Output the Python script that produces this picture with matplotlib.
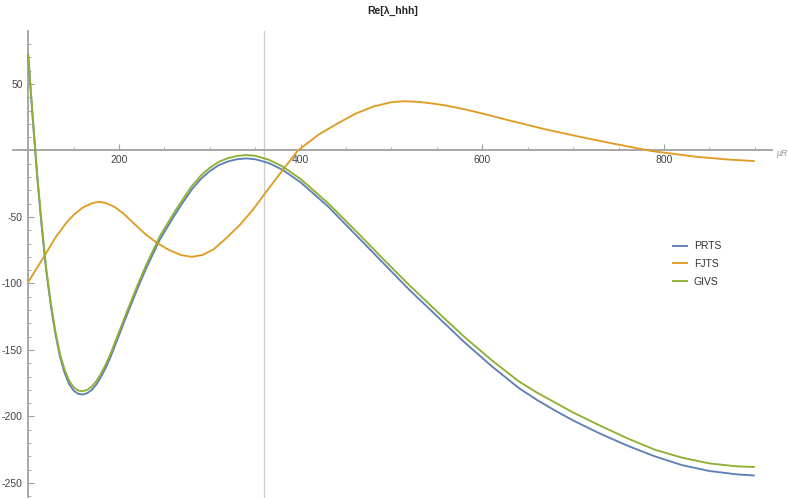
import matplotlib
matplotlib.use("Agg")
import matplotlib.pyplot as plt
from matplotlib.ticker import MultipleLocator, FixedLocator

plt.rcParams['font.family'] = ['Liberation Sans', 'DejaVu Sans']
plt.rcParams['axes.unicode_minus'] = False

# ---- data ----
x_bg = [100, 103, 106, 110, 115, 120, 125, 130, 135, 140, 145, 150, 155, 160, 165, 170, 175, 180,
        185, 190, 200, 210, 220, 230, 245, 260, 270, 280, 290, 300, 310, 320, 330, 340, 350, 365,
        380, 400, 430, 460, 490, 520, 550, 580, 610, 640, 660, 680, 700, 730, 760, 790, 820, 850,
        880, 900]
prts = [72, 43, 15, -20, -58, -91, -117, -138, -155, -167, -175.5, -180.5, -183, -183.5, -182.5,
        -180, -176, -170.5, -164, -156.5, -139, -121.5, -104.5, -88.5, -67, -50, -39.5, -29.5,
        -21.5, -15.5, -11, -8.3, -6.6, -6, -6.6, -9.5, -14.5, -24, -42, -63, -84, -105, -124.5,
        -144, -162, -178.5, -187.5, -195.5, -203, -213, -222, -230, -236.6, -241, -243.5, -244.4]
givs = [72.5, 44, 16.5, -18.5, -56.5, -89.5, -115, -136, -153, -164.5, -173, -178, -180.5, -181,
        -180, -177.5, -173.5, -168, -161.5, -154, -136.5, -119, -102, -86, -64.5, -47.5, -37, -27,
        -19, -13, -8.5, -5.8, -4.1, -3.5, -4, -7, -12, -21.5, -39.5, -60, -81, -101.5, -121,
        -140, -157.5, -173.5, -182, -189.5, -197, -207, -216.5, -225, -231, -235.3, -237.5, -238]

x_fj = [100, 110, 120, 130, 142, 150, 160, 170, 177, 185, 195, 205, 215, 230, 243, 255, 268, 280,
        292, 304, 318, 333, 347, 360, 380, 397, 420, 440, 460, 480, 500, 514, 530, 545, 560, 580,
        597, 633, 670, 707, 743, 787, 835, 870, 900]
fjts = [-99, -88, -77, -65.5, -54.4, -48.5, -43, -39.8, -38.6, -39.4, -42.4, -47.5, -54, -63.5, -70,
        -74.8, -78.6, -80, -78.6, -74.4, -66, -56, -45, -33, -15, 0, 12, 20, 27.5, 33, 36.3, 37,
        36.5, 35.3, 33.8, 31, 28.3, 22, 15.8, 10.3, 5.3, -0.5, -4.7, -6.8, -8]

series_names = ["PRTS", "FJTS", "GIVS"]
colors = ["#5E81B5", "#E19C24", "#8FB032"]
x_ticks_major = [200, 400, 600, 800]
y_ticks_major = [50, -50, -100, -150, -200, -250]
vline_x = 360

# ---- figure ----
W, H = 788, 498
fig = plt.figure(figsize=(W / 100, H / 100), dpi=100)
ax_l, ax_r, ax_t, ax_b = 13, 772, 31, 498
ax = fig.add_axes([ax_l / W, 1 - ax_b / H, (ax_r - ax_l) / W, (ax_b - ax_t) / H])
ax.set_xlim(83.3, 919)
ax.set_ylim(-261.3, 89.8)

ax.axvline(vline_x, color="#cfcfcf", lw=1.0, zorder=1)

kw = dict(lw=1.35, solid_joinstyle="round", solid_capstyle="butt", zorder=3)
ax.plot(x_bg, prts, color=colors[0], label=series_names[0], **kw)
ax.plot(x_fj, fjts, color=colors[1], label=series_names[1], **kw)
ax.plot(x_bg, givs, color=colors[2], label=series_names[2], **kw)

axis_col = "#a0a0a0"
for s in ["top", "right"]:
    ax.spines[s].set_visible(False)
ax.spines["left"].set_position(("data", 100))
ax.spines["bottom"].set_position(("data", 0))
for s in ["left", "bottom"]:
    ax.spines[s].set_color(axis_col)
    ax.spines[s].set_linewidth(1.3)

ax.xaxis.set_major_locator(FixedLocator(x_ticks_major))
ax.xaxis.set_minor_locator(FixedLocator([150, 250, 300, 350, 450, 500, 550, 650, 700, 750, 850, 900]))
ax.yaxis.set_major_locator(FixedLocator(y_ticks_major))
ax.yaxis.set_minor_locator(MultipleLocator(10))

ax.tick_params(axis="both", which="major", direction="in", length=4, width=0.8,
               color=axis_col, labelsize=7.5, labelcolor="#444444", pad=3)
ax.tick_params(axis="both", which="minor", direction="in", length=2.5, width=0.6, color=axis_col)
ax.set_xticklabels([str(v) for v in x_ticks_major])
ax.set_yticklabels([str(v) for v in y_ticks_major])
ax.tick_params(axis="y", which="major", pad=4)

fig.text(393 / W, 1 - 11 / H, "Re[λ_hhh]", ha="center", va="center",
         fontsize=7.5, fontweight="bold", color="#222222")
fig.text(776 / W, 1 - 153 / H, "μR", ha="left", va="center", fontsize=6.5,
         fontstyle="italic", color="#999999")

leg = fig.legend(loc="center left", bbox_to_anchor=(672 / W, 1 - 264 / H), frameon=False,
                 fontsize=7.5, handlelength=1.5, handletextpad=0.6, labelspacing=0.75,
                 borderpad=0, borderaxespad=0)
for t in leg.get_texts():
    t.set_color("#333333")

fig.savefig("out.png", dpi=100)
